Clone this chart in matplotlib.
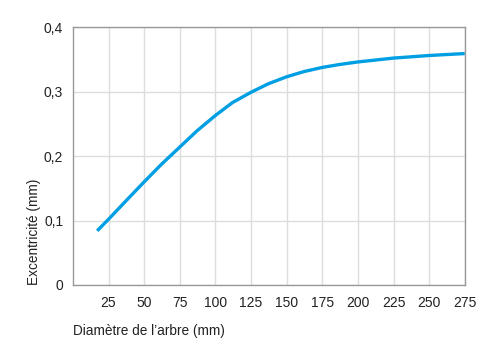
import matplotlib.pyplot as plt
import matplotlib.ticker as mticker

plt.rcParams['font.family'] = ['Liberation Sans', 'DejaVu Sans']

diam = [17, 25, 37, 50, 62, 75, 87, 100, 112, 125, 137, 150, 162, 175, 187, 200, 225, 250, 275]
exc = [0.084, 0.102, 0.130, 0.160, 0.187, 0.214, 0.239, 0.263, 0.283, 0.299, 0.312,
       0.323, 0.331, 0.3375, 0.342, 0.346, 0.352, 0.356, 0.359]
xticks = [25, 50, 75, 100, 125, 150, 175, 200, 225, 250, 275]
yticks = [0, 0.1, 0.2, 0.3, 0.4]

fig = plt.figure(figsize=(5.03, 3.57), dpi=100)
ax = fig.add_axes([0.145, 0.2017, 0.779, 0.7223])

ax.plot(diam, exc, color='#009fe3', lw=2.4, solid_capstyle='butt', solid_joinstyle='round')

ax.set_xlim(0, 275)
ax.set_ylim(0, 0.4)
ax.set_xticks(xticks)
ax.set_yticks(yticks)
ax.yaxis.set_major_formatter(mticker.FuncFormatter(
    lambda v, p: '0' if v == 0 else ('%.1f' % v).replace('.', ',')))
ax.tick_params(length=0, labelsize=10, colors='#222222')
ax.tick_params(axis='y', pad=7)
ax.tick_params(axis='x', pad=8)

ax.grid(True, color='#dddddd', lw=1)
ax.set_axisbelow(True)
for s in ax.spines.values():
    s.set_color('#999999')
    s.set_linewidth(1)

ax.set_xlabel("Diamètre de l’arbre (mm)", fontsize=9.8, loc='left', labelpad=10, color='#222222')
ax.set_ylabel("Excentricité (mm)", fontsize=9.8, loc='bottom', labelpad=2, color='#222222')

fig.savefig('out.png', dpi=100)
